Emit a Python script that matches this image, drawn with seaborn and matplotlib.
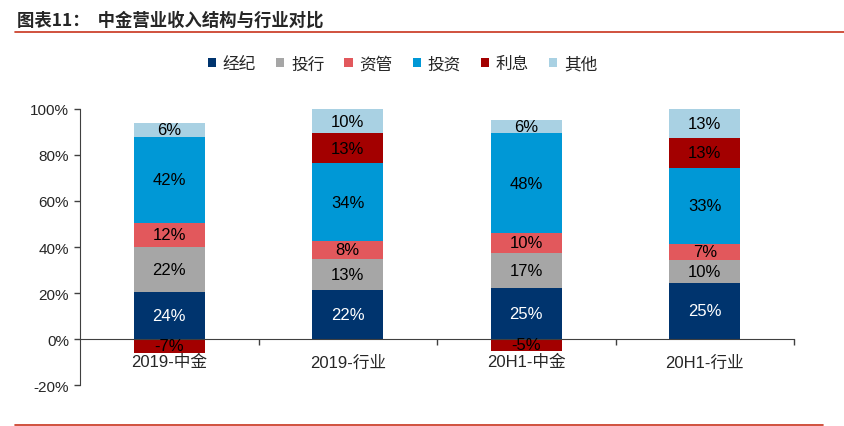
import numpy as np
import pandas as pd
import matplotlib
matplotlib.use('Agg')
import matplotlib.pyplot as plt
import seaborn as sns
from matplotlib.lines import Line2D
from matplotlib.patches import Patch

sns.set_style('white')
plt.rcParams['font.family'] = ['Liberation Sans', 'Noto Sans CJK SC', 'DejaVu Sans']

categories = ['2019-中金', '2019-行业', '20H1-中金', '20H1-行业']
series = ['经纪', '投行', '资管', '投资', '利息', '其他']

# bar heights as drawn in the picture (%)
jingji = [20.5, 21.5, 22.0, 24.5]
touhang = [19.5, 13.5, 15.5, 10.0]
ziguan = [10.5, 7.5, 8.5, 7.0]
touzi = [37.5, 34.0, 43.5, 33.0]
lixi = [-6.0, 13.0, -5.0, 13.0]
qita = [6.0, 10.5, 5.5, 12.5]

# printed segment labels
lab_jingji = ['24%', '22%', '25%', '25%']
lab_touhang = ['22%', '13%', '17%', '10%']
lab_ziguan = ['12%', '8%', '10%', '7%']
lab_touzi = ['42%', '34%', '48%', '33%']
lab_lixi = ['-7%', '13%', '-5%', '13%']
lab_qita = ['6%', '10%', '6%', '13%']

colors = ['#00346e', '#a6a6a6', '#e2585c', '#0098d6', '#a30000', '#a9d1e3']

values = [jingji, touhang, ziguan, touzi, lixi, qita]
labels = [lab_jingji, lab_touhang, lab_ziguan, lab_touzi, lab_lixi, lab_qita]

vals = np.array(values, dtype=float)
pos = np.where(vals > 0, vals, 0)
cum_top = np.cumsum(pos, axis=0)
cum_bot = cum_top - pos

fig = plt.figure(figsize=(8.44, 4.27), dpi=100)
ax = fig.add_axes([0.0948, 0.096, 0.846, 0.6464])

# stacked bars: draw cumulative tops from last layer down
for k in range(len(series) - 1, -1, -1):
    h = np.where(vals[k] > 0, cum_top[k], np.nan)
    d = pd.DataFrame({'cat': categories, 'h': h})
    sns.barplot(data=d, x='cat', y='h', order=categories, color=colors[k],
                width=0.4, saturation=1, ax=ax, linewidth=0)
# negative segments
for k in range(len(series)):
    if (vals[k] < 0).any():
        h = np.where(vals[k] < 0, vals[k], np.nan)
        d = pd.DataFrame({'cat': categories, 'h': h})
        sns.barplot(data=d, x='cat', y='h', order=categories, color=colors[k],
                    width=0.4, saturation=1, ax=ax, linewidth=0)

# segment labels
for k in range(len(series)):
    for i in range(len(categories)):
        v = vals[k][i]
        yc = v / 2 if v < 0 else (cum_bot[k][i] + cum_top[k][i]) / 2
        ax.text(i, yc, labels[k][i], ha='center', va='center', fontsize=12,
                color='white' if k == 0 else 'black')

ax.set_xlim(-0.5, 3.5)
ax.set_ylim(-20, 100)
ax.set_yticks(range(-20, 101, 20))
ax.set_yticklabels([f'{t}%' for t in range(-20, 101, 20)], fontsize=11)
ax.set_xlabel('')
ax.set_ylabel('')

for s in ['top', 'right']:
    ax.spines[s].set_visible(False)
ax.spines['left'].set_color('#404040')
ax.spines['bottom'].set_color('#404040')
ax.spines['bottom'].set_position(('data', 0))
ax.tick_params(axis='y', direction='out', length=4, width=1, color='#404040', pad=4, left=True)
ax.tick_params(axis='x', which='major', length=0, pad=11, labelsize=12)
ax.set_xticks([0.5, 1.5, 2.5, 3.5], minor=True)
ax.tick_params(axis='x', which='minor', direction='out', length=4, width=1, color='#404040', bottom=True)

# legend
handles = [Patch(facecolor=c, edgecolor='none') for c in colors]
fig.legend(handles, series, loc='center', bbox_to_anchor=(0.477, 0.848), ncol=6,
           frameon=False, handlelength=0.5, handleheight=0.5,
           handletextpad=0.4, columnspacing=1.2,
           prop={'family': ['Noto Sans CJK SC'], 'size': 12})

# title and red rules
fig.text(0.02, 0.952, '图表11：  中金营业收入结构与行业对比', fontsize=12.5, fontweight='bold',
         va='center', ha='left', family=['Noto Sans CJK SC', 'DejaVu Sans'])
fig.add_artist(Line2D([0.018, 1.0], [0.923, 0.923], color='#c8341c', linewidth=1.2))
fig.add_artist(Line2D([0.018, 0.975], [0.003, 0.003], color='#c8341c', linewidth=1.2))

fig.savefig('out.png', dpi=100)
